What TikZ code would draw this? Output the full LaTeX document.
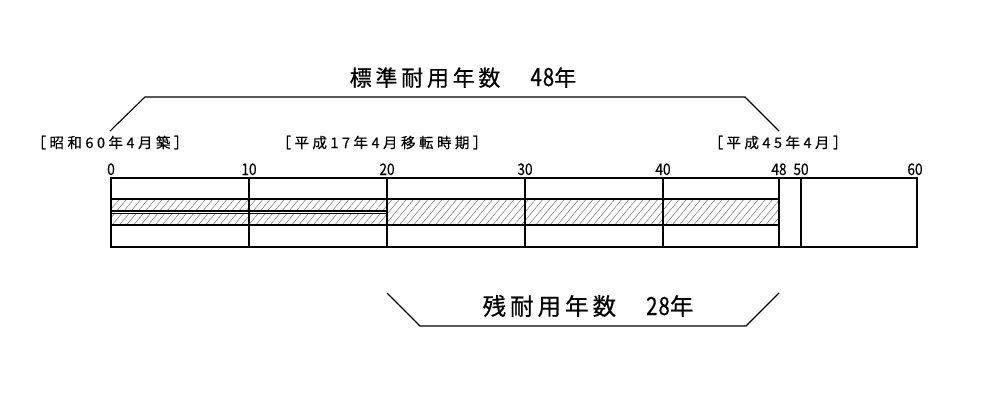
\documentclass[tikz,border=0pt]{standalone}
\usepackage{fontspec}
\setmainfont{Noto Sans CJK JP}
\usetikzlibrary{patterns.meta}
\newcommand\tallnum[1]{{\fontsize{25}{25}\selectfont\addfontfeature{FakeStretch=0.82,LetterSpace=4}#1}}
\tikzset{every node/.append style={inner sep=0pt,outer sep=0pt}}
\tikzset{hatch/.style={pattern={Lines[angle=50,distance=5.5pt,line width=0.5pt]},pattern color=black!55}}
\tikzset{yearlbl/.style={anchor=base,font=\fontsize{16}{16}\selectfont\addfontfeature{FakeStretch=0.85,FakeBold=0.4}}}
\tikzset{datelbl/.style={anchor=base,font=\fontsize{14.5}{14}\selectfont\addfontfeature{LetterSpace=24,FakeBold=0.4}}}
\tikzset{spanlbl/.style={anchor=base,font=\fontsize{22}{22}\selectfont\addfontfeature{LetterSpace=17,FakeBold=0.5}}}

\begin{document}
\begin{tikzpicture}[x=1pt,y=-1pt,line width=1.1pt]
  \useasboundingbox (0,0) rectangle (1000,410);
  % hatched bands
  \fill[hatch] (111,199) rectangle (387,211);
  \fill[hatch] (111,213.3) rectangle (387,225);
  \fill[hatch] (387,199) rectangle (779,225);
  % frame
  \draw (111,178) rectangle (917,247);
  \draw (111,199)--(779,199) (111,225)--(779,225);
  \draw[line width=1.2pt] (111,211)--(387,211) (111,213.6)--(387,213.6);
  \foreach \x in {249,387,525,663,779,801}{
    \draw (\x,178)--(\x,247);
  };
  \foreach \x/\t in {111/0,249/10,387/20,525/30,663/40,779/48,801/50,915/60}{
    \node[yearlbl] (y\t) at (\x,175) {\t};
  };
  % dates
  \node[datelbl] (built) at (110,148) {［昭和60年4月築］};
  \node[datelbl] (moved) at (382,148) {［平成17年4月移転時期］};
  \node[datelbl] (ends) at (778,148) {［平成45年4月］};
  % spans
  \coordinate (a1) at (110,131);
  \coordinate (a2) at (145,97);
  \coordinate (a3) at (745,97);
  \coordinate (a4) at (779,131);
  \draw (a1)--(a2)--(a3)--(a4);
  \node[spanlbl] (std) at (463,86) {標準耐用年数\hspace{30pt}\tallnum{48}年};
  \coordinate (b1) at (387,293);
  \coordinate (b2) at (420,326);
  \coordinate (b3) at (746,326);
  \coordinate (b4) at (779,293);
  \draw (b1)--(b2)--(b3)--(b4);
  \node[spanlbl,font=\fontsize{23.5}{23.5}\selectfont\addfontfeature{LetterSpace=17,FakeBold=0.5}] (rest) at (588,315) {残耐用年数\hspace{30pt}\tallnum{28}年};
\end{tikzpicture}
\end{document}
